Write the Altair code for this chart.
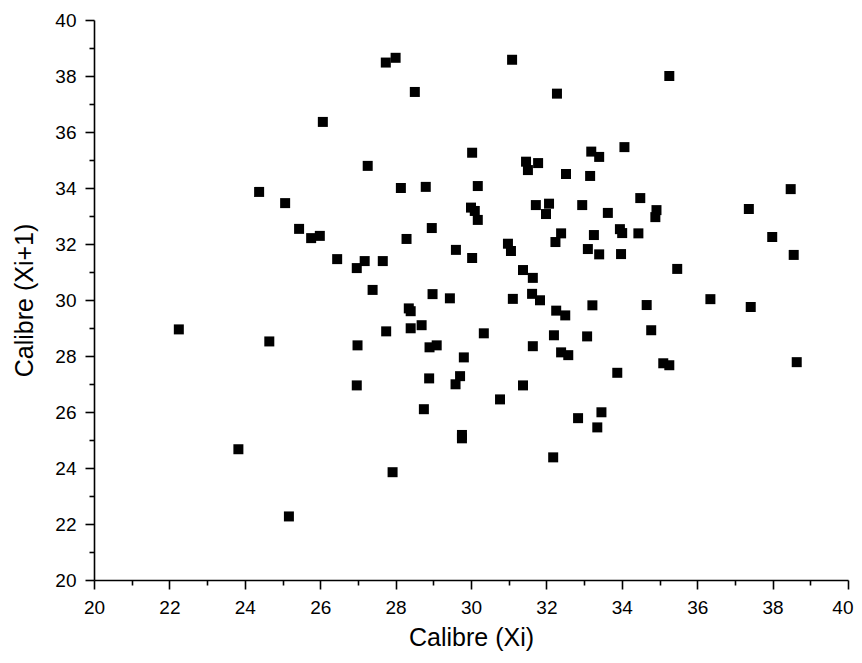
import altair as alt
import pandas as pd

xi = [22.25, 23.83, 24.38, 24.65, 25.07, 25.17, 25.44, 25.76, 25.99, 26.07,
      26.45, 26.97, 26.97, 26.99, 27.18, 27.26, 27.39, 27.66, 27.74, 27.75,
      28.00, 27.92, 28.14, 28.29, 28.35, 28.40, 28.40, 28.51, 28.69, 28.75,
      28.80, 28.90, 28.89, 28.96, 28.98, 29.09, 29.44, 29.60, 29.59, 29.71,
      29.81, 29.76, 29.76, 30.00, 30.03, 30.03, 30.10, 30.18, 30.18, 30.34,
      30.77, 30.98, 31.06, 31.09, 31.11, 31.38, 31.38, 31.46, 31.51, 31.64,
      31.62, 31.64, 31.72, 31.78, 31.83, 31.99, 32.07, 32.20, 32.18, 32.24,
      32.28, 32.26, 32.39, 32.39, 32.50, 32.52, 32.58, 32.84, 32.95, 33.10,
      33.08, 33.16, 33.19, 33.22, 33.26, 33.35, 33.40, 33.40, 33.46, 33.63,
      33.88, 33.95, 34.01, 33.98, 34.07, 34.44, 34.49, 34.66, 34.78, 34.92,
      34.89, 35.10, 35.26, 35.26, 35.47, 36.35, 37.37, 37.42, 37.99, 38.48,
      38.56, 38.64]
xi1 = [28.95, 24.67, 33.86, 28.52, 33.46, 22.27, 32.54, 32.21, 32.29, 36.36,
       31.46, 31.14, 26.95, 28.38, 31.39, 34.79, 30.36, 31.39, 38.48, 28.88,
       38.65, 23.85, 34.00, 32.18, 29.70, 29.60, 28.99, 37.43, 29.10, 26.10,
       34.04, 28.31, 27.20, 32.57, 30.21, 28.38, 30.06, 31.79, 26.99, 27.28,
       27.95, 25.18, 25.06, 33.30, 35.26, 31.50, 33.18, 34.07, 32.86, 28.81,
       26.45, 32.01, 31.75, 38.58, 30.04, 31.07, 26.95, 34.94, 34.64, 30.79,
       30.22, 28.35, 33.39, 34.89, 29.99, 33.07, 33.44, 28.74, 24.38, 32.07,
       37.37, 29.62, 32.38, 28.13, 29.45, 34.50, 28.03, 25.78, 33.39, 31.82,
       28.70, 34.43, 35.30, 29.81, 32.32, 25.45, 35.11, 31.63, 25.99, 33.11,
       27.40, 32.53, 32.39, 31.64, 35.46, 32.38, 33.64, 29.82, 28.92, 33.21,
       32.96, 27.74, 27.67, 38.00, 31.11, 30.03, 33.25, 29.75, 32.25, 33.96,
       31.61, 27.78]

tick_values = list(range(20, 41))

df = pd.DataFrame({"xi": xi, "xi1": xi1})

FONT = "Liberation Sans"

tick_size = {"condition": {"test": "datum.value % 2 === 0", "value": 9}, "value": 5}
label_expr = "datum.value % 2 === 0 ? datum.label : ''"

common = dict(
    values=tick_values,
    labelExpr=label_expr,
    tickSize=tick_size,
    grid=False,
    domainColor="black",
    domainWidth=1.6,
    tickColor="black",
    tickWidth=1.6,
    labelFont=FONT,
    labelFontSize=19,
    labelColor="black",
    labelPadding=9,
    labelFlush=False,
    titleFont=FONT,
    titleFontSize=25,
    titleFontWeight="normal",
    titleColor="black",
)

chart = (
    alt.Chart(df)
    .mark_square(size=100, color="black", opacity=1, filled=True)
    .encode(
        x=alt.X(
            "xi:Q",
            scale=alt.Scale(domain=[20, 40], nice=False, zero=False),
            axis=alt.Axis(
                title="Calibre (Xi)",
                titlePadding=8,
                labelAlign={"condition": {"test": "datum.value === 40", "value": "right"},
                            "value": "center"},
                labelOffset={"condition": {"test": "datum.value === 40", "value": 5},
                             "value": 0},
                **common,
            ),
        ),
        y=alt.Y(
            "xi1:Q",
            scale=alt.Scale(domain=[20, 40], nice=False, zero=False),
            axis=alt.Axis(
                title="Calibre (Xi+1)",
                titlePadding=17,
                **common,
            ),
        ),
    )
    .properties(
        width=754,
        height=560,
        autosize=alt.AutoSizeParams(type="none"),
        padding={"left": 86, "top": 12, "right": 6, "bottom": 71},
    )
    .configure_view(stroke=None)
)

chart.save("out.html", embed_options={"renderer": "svg", "actions": False})
